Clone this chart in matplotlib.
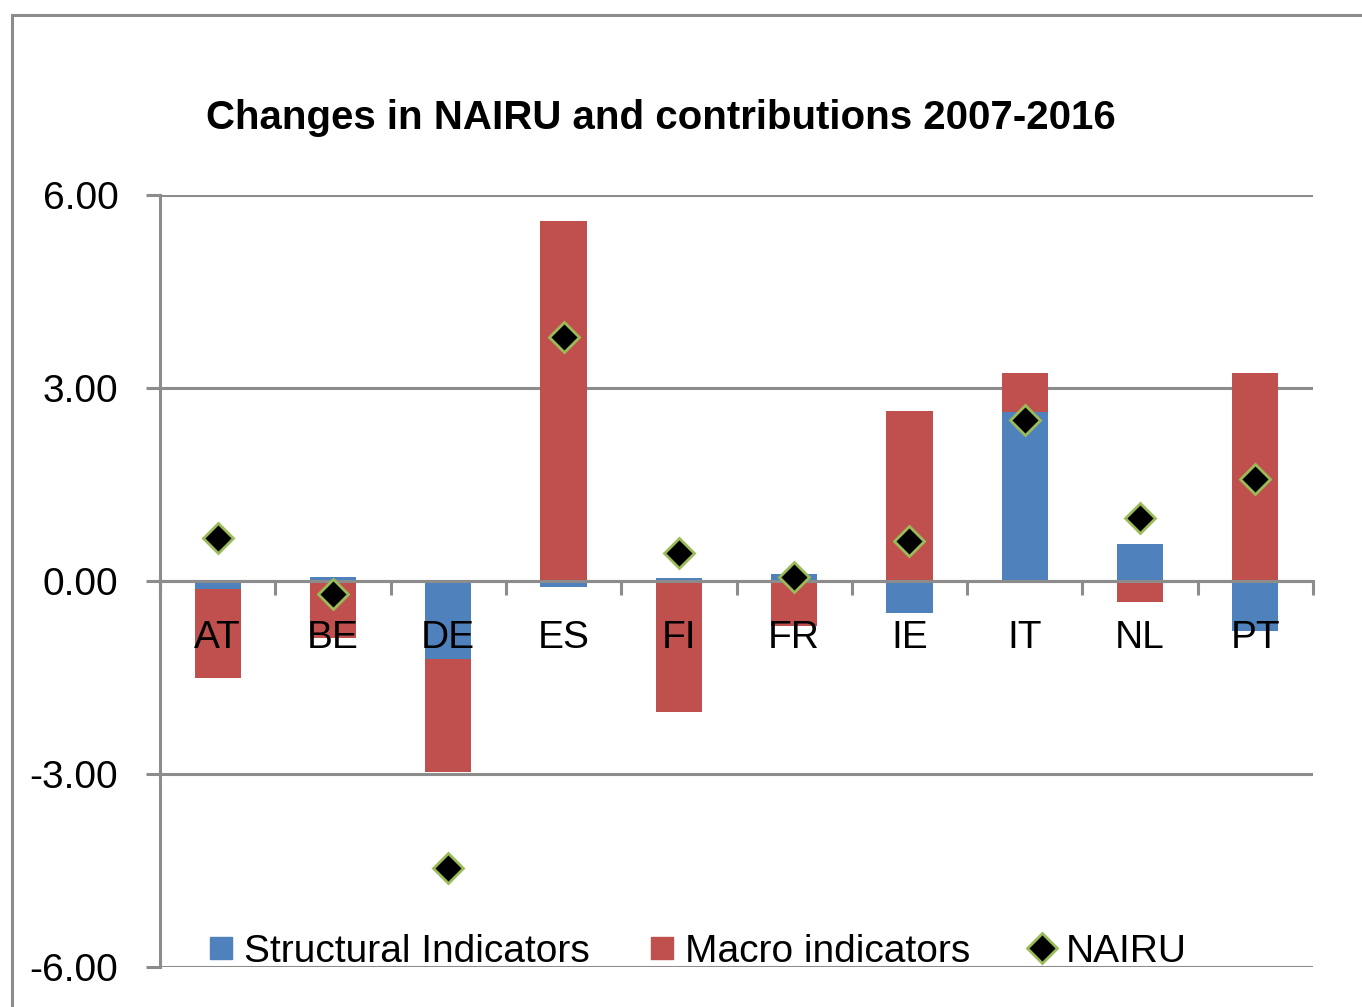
import matplotlib
matplotlib.use("Agg")
import matplotlib.pyplot as plt
import numpy as np
from matplotlib.patches import Rectangle
from matplotlib.lines import Line2D

plt.rcParams['font.family'] = ['Liberation Sans', 'DejaVu Sans']
plt.rcParams['axes.unicode_minus'] = False

# data
countries = ["AT", "BE", "DE", "ES", "FI", "FR", "IE", "IT", "NL", "PT"]
structural = [-0.12, 0.06, -1.21, -0.09, 0.05, 0.11, -0.50, 2.63, 0.57, -0.78]
macro = [-1.38, -0.89, -1.76, 5.60, -2.03, -0.70, 2.64, 0.60, -0.33, 3.24]
nairu = [0.67, -0.20, -4.46, 3.79, 0.44, 0.06, 0.62, 2.50, 0.98, 1.59]
yticks = [-6, -3, 0, 3, 6]

blue = "#4F81BD"
red = "#C0504D"
green = "#9BBB59"
grey = "#8C8C8C"

fig = plt.figure(figsize=(13.62, 10.07), dpi=100)
W, H = 1362, 1007
ax = fig.add_axes([160 / W, 1 - 967 / H, (1313 - 160) / W, (967 - 195) / H])

x = np.arange(len(countries))
s = np.array(structural)
m = np.array(macro)
# excel style stacking: positives and negatives stack separately
macro_bottom = np.where(np.sign(m) == np.sign(s), s, 0.0)

ax.bar(x, s, width=0.4, color=blue, zorder=2)
ax.bar(x, m, width=0.4, bottom=macro_bottom, color=red, zorder=2)
ax.plot(x, nairu, linestyle="none", marker="D", markersize=15,
        markerfacecolor="black", markeredgecolor=green, markeredgewidth=2, zorder=5)

ax.set_xlim(-0.5, len(countries) - 0.5)
ax.set_ylim(-6, 6)
ax.set_yticks(yticks)
ax.set_yticklabels([f"{v:.2f}" for v in yticks])
ax.yaxis.grid(True, color=grey, linewidth=2.2, zorder=0)
ax.set_axisbelow(True)
# category labels sit on top of the bars
ax.xaxis.set_zorder(4)

for side in ["top", "right"]:
    ax.spines[side].set_visible(False)
ax.spines["bottom"].set_position(("data", 0))
for side in ["left", "bottom"]:
    ax.spines[side].set_color(grey)
    ax.spines[side].set_linewidth(2.2)
    ax.spines[side].set_zorder(3)

# boundaries get tick marks, centers get the labels
ax.set_xticks(np.arange(len(countries) + 1) - 0.5)
ax.set_xticklabels([])
ax.set_xticks(x, minor=True)
ax.set_xticklabels(countries, minor=True)
ax.tick_params(axis="x", which="major", direction="out", length=10, width=2.2, color=grey)
ax.tick_params(axis="x", which="minor", length=0, pad=28, labelsize=28)
ax.tick_params(axis="y", direction="out", length=10, width=2.2, color=grey, pad=20, labelsize=28)

fig.text(661 / W, 1 - 118 / H, "Changes in NAIRU and contributions 2007-2016",
         ha="center", va="center", fontsize=29, fontweight="bold")

handles = [
    Line2D([], [], linestyle="none", marker="s", markersize=16, color=blue),
    Line2D([], [], linestyle="none", marker="s", markersize=16, color=red),
    Line2D([], [], linestyle="none", marker="D", markersize=15,
           markerfacecolor="black", markeredgecolor=green, markeredgewidth=2),
]
fig.legend(handles, ["Structural Indicators", "Macro indicators", "NAIRU"],
           loc="center", bbox_to_anchor=(698 / W, 1 - 952 / H), ncol=3,
           frameon=False, fontsize=28, handlelength=0.6, handletextpad=0.3,
           columnspacing=1.55)

# outer chart frame, cropped on the right and bottom
fig.patches.append(Rectangle((12 / W, -0.1), 1.2, 1 - 15 / H + 0.1,
                             transform=fig.transFigure, fill=False,
                             edgecolor=grey, linewidth=2.2))

fig.savefig("out.png", dpi=100)
